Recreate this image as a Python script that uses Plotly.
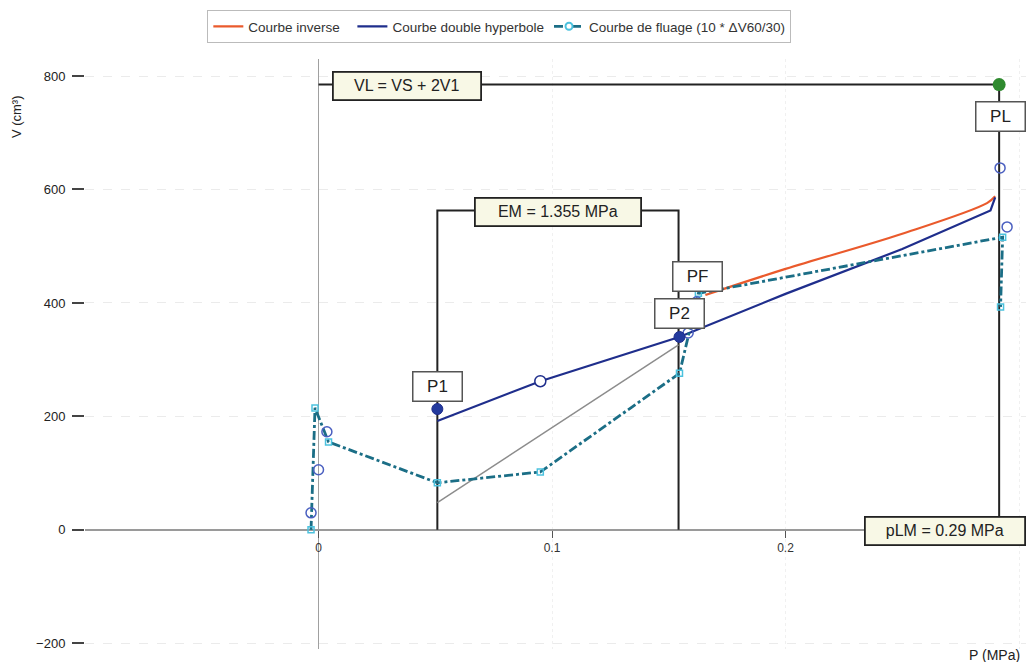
import plotly.graph_objects as go

# --- Pressuremeter test data: P in MPa, V in cm3 ---
# Inverse curve
inv_p = [0.1657, 0.2000, 0.2500, 0.2863, 0.2898]
inv_v = [414, 460, 522, 576, 588]

# Double hyperbola curve
hyp_p = [0.0509, 0.0950, 0.1545, 0.2000, 0.2500, 0.2878, 0.2898]
hyp_v = [192, 262, 340, 416, 495, 563, 586]

# Creep curve (10 * dV60/30)
creep_p = [-0.0032, -0.0015, 0.0043, 0.0509, 0.0950, 0.1546, 0.1627, 0.2930, 0.2921]
creep_v = [0, 215, 155, 83, 102, 276, 417, 516, 393]

# Raw measured volumes
raw_p = [-0.0032, 0.0000, 0.0036, 0.1583, 0.1620, 0.2919, 0.2949]
raw_v = [30, 106, 173, 347, 402, 638, 534]

# Characteristic points
p1 = (0.0509, 213)
p2 = (0.1546, 340)
hyp_mid = (0.0950, 262)
modulus_line_p = [0.0509, 0.1542]
modulus_line_v = [48, 326]

pLM = 0.2915
VL = 785
em_top = 563
EM = 1.355

x_ticks = [0, 0.1, 0.2, 0.3]
y_ticks = [-200, 0, 200, 400, 600, 800]

font_family = "Liberation Sans, Arial, sans-serif"
navy = "#1f2e8c"
red = "#ea5a2c"
teal = "#1b6e86"
cyan = "#4cc2de"
blue_raw = "#4a5fc0"
black = "#222222"

fig = go.Figure()

# EM bracket between P1 and P2
fig.add_trace(go.Scatter(
    x=[p1[0], p1[0], modulus_line_p[1], modulus_line_p[1]],
    y=[0, em_top, em_top, 0],
    mode="lines", line=dict(color=black, width=2),
    showlegend=False, hoverinfo="skip"))

# VL horizontal and pLM vertical
fig.add_trace(go.Scatter(
    x=[0, pLM, pLM], y=[VL, VL, 0],
    mode="lines", line=dict(color=black, width=2),
    showlegend=False, hoverinfo="skip"))

# Modulus slope line
fig.add_trace(go.Scatter(
    x=modulus_line_p, y=modulus_line_v,
    mode="lines", line=dict(color="#8c8c8c", width=1.5),
    showlegend=False, hoverinfo="skip"))

# Curves
fig.add_trace(go.Scatter(
    x=inv_p, y=inv_v, mode="lines", name="Courbe inverse\u00a0\u00a0",
    line=dict(color=red, width=2.2, shape="spline")))

fig.add_trace(go.Scatter(
    x=hyp_p, y=hyp_v, mode="lines", name="Courbe double hyperbole",
    line=dict(color=navy, width=2.2)))

fig.add_trace(go.Scatter(
    x=creep_p, y=creep_v, mode="lines+markers",
    name="Courbe de fluage (10 * \u0394V60/30)",
    line=dict(color=teal, width=2.8, dash="dashdot"),
    marker=dict(symbol="square-open", size=6, color=cyan, line=dict(width=1.5)),
    showlegend=False))

# Legend entry for the creep curve
fig.add_trace(go.Scatter(
    x=[None], y=[None], mode="lines+markers",
    name="Courbe de fluage (10 * \u0394V60/30)",
    line=dict(color=teal, width=2.8, dash="dash"),
    marker=dict(symbol="circle-open", size=7, color=cyan, line=dict(width=2))))

# Raw volume points
fig.add_trace(go.Scatter(
    x=raw_p, y=raw_v, mode="markers",
    marker=dict(symbol="circle-open", size=10, color=blue_raw, line=dict(width=1.5)),
    showlegend=False, hoverinfo="skip"))

# Hyperbola intermediate point
fig.add_trace(go.Scatter(
    x=[hyp_mid[0]], y=[hyp_mid[1]], mode="markers",
    marker=dict(symbol="circle", size=11, color="white", line=dict(color=navy, width=1.5)),
    showlegend=False, hoverinfo="skip"))

# P1 / P2
fig.add_trace(go.Scatter(
    x=[p1[0], p2[0]], y=[p1[1], p2[1]], mode="markers",
    marker=dict(symbol="circle", size=11, color="#233a9e", line=dict(color=navy, width=1)),
    showlegend=False, hoverinfo="skip"))

# Limit point
fig.add_trace(go.Scatter(
    x=[pLM], y=[VL], mode="markers",
    marker=dict(symbol="circle", size=13, color="#2f8a2f"),
    showlegend=False, hoverinfo="skip"))

annotations = []

def point_label(text, x, y):
    annotations.append(dict(
        x=x, y=y, xref="x", yref="y", text=text, showarrow=False,
        font=dict(family=font_family, size=17, color="#222"),
        bgcolor="white", bordercolor="#555", borderwidth=1.5, borderpad=3,
        width=42, height=22))

def value_label(text, x, y, w):
    annotations.append(dict(
        x=x, y=y, xref="x", yref="y", text=text, showarrow=False,
        font=dict(family=font_family, size=16, color="#222"),
        bgcolor="#f8f8e6", bordercolor="#222", borderwidth=1.8, borderpad=3,
        width=w, height=20))

point_label("P1", p1[0], 253)
point_label("P2", p2[0] - 0.0001, 382)
point_label("PF", 0.1623, 447)
point_label("PL", pLM + 0.0005, 729)
value_label("EM = %.3f MPa" % EM, 0.1024, 560, 158)
value_label("VL = VS + 2V1", 0.0377, 783, 140)
value_label("pLM = %.2f MPa" % pLM, 0.2685, -2, 152)

annotations.append(dict(
    x=-0.072, y=0.902, xref="paper", yref="paper", text="V (cm\u00b3)",
    xanchor="center", yanchor="middle",
    textangle=-90, showarrow=False,
    font=dict(family=font_family, size=13, color="#222")))
annotations.append(dict(
    x=0.9958, y=-0.0102, xref="paper", yref="paper", text="P (MPa)",
    xanchor="right", yanchor="middle",
    showarrow=False, font=dict(family=font_family, size=14, color="#222")))

fig.update_layout(
    width=1026, height=662,
    margin=dict(l=85, r=0, t=59, b=13),
    paper_bgcolor="white", plot_bgcolor="white",
    font=dict(family=font_family, size=12, color="#333"),
    annotations=annotations,
    legend=dict(
        orientation="h", x=0.13, y=1.083, xanchor="left", yanchor="top",
        bordercolor="#bbbbbb", borderwidth=1, bgcolor="white",
        font=dict(family=font_family, size=13.5, color="#333"),
        itemwidth=30, tracegroupgap=0),
    xaxis=dict(
        range=[-0.1, 0.303], tickvals=x_ticks, ticktext=["0", "0.1", "0.2", "0.3"],
        anchor="free", position=0.2019, ticks="outside", ticklen=7,
        tickcolor="#555", showline=False,
        showgrid=True, gridcolor="#f0f0f0", griddash="dot",
        zeroline=True, zerolinecolor="#a0a0a0", zerolinewidth=1.2),
    yaxis=dict(
        range=[-210, 830], tickvals=y_ticks, ticks="outside", ticklen=12,
        tickwidth=1.5, tickcolor="#444", showline=False,
        ticklabelstandoff=4, tickfont=dict(size=13, color="#222"),
        showgrid=True, gridcolor="#ebebeb", griddash="dash",
        zeroline=True, zerolinecolor="#9a9a9a", zerolinewidth=1.5),
)

fig.write_html("out.html")
